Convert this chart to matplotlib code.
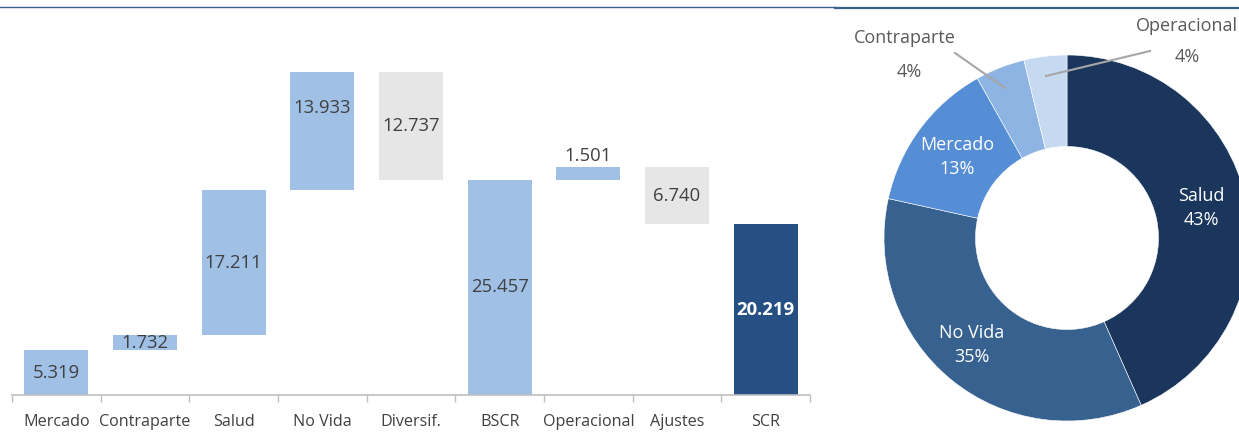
import matplotlib.pyplot as plt
from matplotlib.lines import Line2D

plt.rcParams['font.family'] = ['Open Sans', 'DejaVu Sans']

# ---------------- datos ----------------
categorias = ['Mercado', 'Contraparte', 'Salud', 'No Vida', 'Diversif.',
              'BSCR', 'Operacional', 'Ajustes', 'SCR']
valores = [5.319, 1.732, 17.211, 13.933, -12.737, 25.457, 1.501, -6.740, 20.219]
tipos = ['sube', 'sube', 'sube', 'sube', 'baja', 'total', 'sube', 'baja', 'final']

donut_nombres = ['Salud', 'No Vida', 'Mercado', 'Contraparte', 'Operacional']
donut_valores = [17.211, 13.933, 5.319, 1.732, 1.501]

# ---------------- colores ----------------
AZUL_CLARO = '#a0c0e6'
GRIS = '#e6e6e6'
AZUL_OSCURO = '#265084'
TEXTO = '#404040'
colores_tipo = {'sube': AZUL_CLARO, 'baja': GRIS, 'total': AZUL_CLARO, 'final': AZUL_OSCURO}
donut_colores = ['#1a365d', '#37618f', '#558ed5', '#8eb4e3', '#c5d9f1']

W, H = 1239, 434
fig = plt.figure(figsize=(W / 100, H / 100), dpi=100)

# ---------------- cascada ----------------
ax = fig.add_axes([12 / W, 39 / H, 798 / W, 375 / H])
acum = 0
for i, (v, t) in enumerate(zip(valores, tipos)):
    if t in ('total', 'final'):
        base, alto = 0, v
        acum = v
    elif v >= 0:
        base, alto = acum, v
        acum += v
    else:
        base, alto = acum + v, -v
        acum += v
    ax.bar(i, alto, bottom=base, width=0.72, color=colores_tipo[t], zorder=2)

    y = base + alto / 2
    if categorias[i] == 'Operacional':
        y = base + alto + 1.3   # barra muy baja: etiqueta encima
    elif categorias[i] == 'No Vida':
        y = base + alto * 0.7
    txt = f'{abs(v):.3f}'
    if t == 'final':
        ax.text(i, y, txt, ha='center', va='center', fontsize=13.3,
                color='white', fontweight='bold')
    else:
        ax.text(i, y, txt, ha='center', va='center', fontsize=13.3, color=TEXTO)

ax.set_xlim(-0.5, len(categorias) - 0.5)
ax.set_ylim(0, 44.4)
ax.set_xticks(range(len(categorias)))
ax.set_xticklabels(categorias, fontsize=11.6, color=TEXTO)
ax.tick_params(axis='x', length=0, pad=14)
ax.set_xticks([i - 0.5 for i in range(len(categorias) + 1)], minor=True)
ax.tick_params(axis='x', which='minor', length=5, color='#bfbfbf', width=1)
ax.set_yticks([])
for s in ['top', 'right', 'left']:
    ax.spines[s].set_visible(False)
ax.spines['bottom'].set_color('#bfbfbf')
ax.spines['bottom'].set_linewidth(1.2)

# ---------------- dona ----------------
R = 183
cx, cy = 1067, H - 238
ax2 = fig.add_axes([(cx - R) / W, (cy - R) / H, 2 * R / W, 2 * R / H])
wedges, _ = ax2.pie(donut_valores, colors=donut_colores, startangle=90,
                    counterclock=False, radius=1,
                    wedgeprops=dict(width=0.5, edgecolor='white', linewidth=0.4))
ax2.set_xlim(-1, 1)
ax2.set_ylim(-1, 1)
ax2.set_aspect('equal')
ax2.axis('off')

total = sum(donut_valores)
pct = [f'{v / total * 100:.0f}%' for v in donut_valores]

# etiquetas dentro del anillo (en px relativos al centro)
dentro = {'Salud': (134, 30), 'No Vida': (-95, -107), 'Mercado': (-110, 81)}
for nombre, p in zip(donut_nombres, pct):
    if nombre in dentro:
        dx, dy = dentro[nombre]
        ax2.text(dx / R, dy / R, f'{nombre}\n{p}', ha='center', va='center',
                 fontsize=13, color='white', linespacing=1.4)

# etiquetas fuera con línea guía
GRIS_TXT = '#595959'
ax2.plot([(955 - cx) / R, (1005 - cx) / R], [(238 - 53) / R, (238 - 88) / R],
         color='#a6a6a6', lw=1.5, clip_on=False)
ax2.text((905 - cx) / R, (238 - 38) / R, donut_nombres[3], ha='center', va='center',
         fontsize=13, color=GRIS_TXT, clip_on=False)
ax2.text((909 - cx) / R, (238 - 72) / R, pct[3], ha='center', va='center',
         fontsize=13, color=GRIS_TXT, clip_on=False)
ax2.plot([(1150 - cx) / R, (1046 - cx) / R], [(238 - 51) / R, (238 - 76) / R],
         color='#a6a6a6', lw=1.5, clip_on=False)
ax2.text((1187 - cx) / R, (238 - 26) / R, donut_nombres[4], ha='center', va='center',
         fontsize=13, color=GRIS_TXT, clip_on=False)
ax2.text((1187 - cx) / R, (238 - 57) / R, pct[4], ha='center', va='center',
         fontsize=13, color=GRIS_TXT, clip_on=False)

# líneas superiores
fig.add_artist(Line2D([0, 835 / W], [1 - 7 / H] * 2, color='#3a5f8a', lw=1))
fig.add_artist(Line2D([835 / W, 1], [1 - 8.3 / H] * 2, color='#3a5f8a', lw=1.6))

fig.savefig('out.png', dpi=100)
